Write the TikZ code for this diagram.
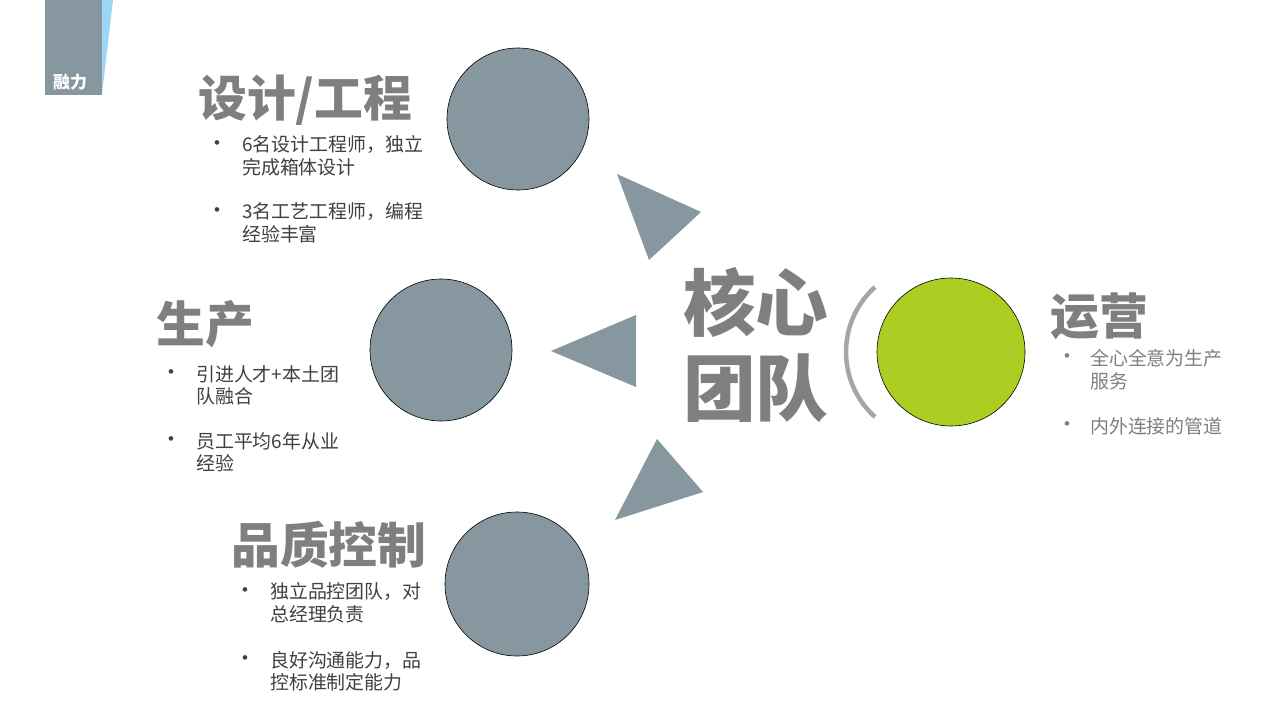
\documentclass[tikz,border=0pt]{standalone}
\usepackage{fontspec}
\newfontfamily\cjk{Noto Sans CJK SC}
\newfontfamily\bul{Liberation Sans}
\definecolor{circgray}{HTML}{87979F}
\definecolor{limeg}{HTML}{ACCE22}
\definecolor{headgray}{HTML}{7F7F7F}
\definecolor{textdark}{HTML}{404040}
\definecolor{textlight}{HTML}{7F7F7F}
\definecolor{arcgray}{HTML}{A6A6A6}
\definecolor{logoblue}{HTML}{9DD5F5}
\begin{document}
\begin{tikzpicture}[x=1bp,y=-1bp,
  heading/.style={anchor=west,inner sep=0,text=headgray,font=\cjk\bfseries\fontsize{49}{56}\selectfont},
  coretitle/.style={anchor=west,inner sep=0,text=headgray,font=\cjk\bfseries\fontsize{73}{80}\selectfont},
  bline/.style={anchor=west,inner sep=0,text=textdark,font=\cjk\fontsize{19}{23}\selectfont},
  blineR/.style={bline,text=textlight},
  bdot/.style={anchor=center,inner sep=0,text=textdark,font=\bul\fontsize{17}{23}\selectfont},
  bdotR/.style={bdot,text=textlight},
  bigcirc/.style={circle,inner sep=0,minimum size=142bp,draw=black,line width=0.6bp,fill=circgray},
  tri/.style={fill=circgray}
]
\useasboundingbox (0,0) rectangle (1280,720);
\fill[white] (0,0) rectangle (1280,720);

% logo
\fill[circgray] (45,0) rectangle (102,95);
\fill[logoblue] (102,0) -- (113,0) -- (102,94) -- cycle;
\node[anchor=west,inner sep=0,text=white,font=\cjk\bfseries\fontsize{17}{18}\selectfont] (logo) at (53,82) {融力};

% circles
\node[bigcirc] (c1) at (518,119) {};
\node[bigcirc] (c2) at (441,350) {};
\node[bigcirc,minimum size=144bp] (c3) at (517,584) {};
\node[bigcirc,minimum size=148bp,fill=limeg] (c4) at (951,352) {};

% triangles
\fill[tri] (617,174) -- (701,212) -- (649,260) -- cycle;
\fill[tri] (551,351) -- (636,315) -- (636,387) -- cycle;
\fill[tri] (657,439) -- (703,492) -- (615,520) -- cycle;

% arc
\draw[arcgray,line width=4.5bp] (875,417) arc[start angle=131.9,end angle=228.1,radius=87.3];

% core title
\node[coretitle] (core1) at (683,302) {核心};
\node[coretitle] (core2) at (683,388) {团队};

% design / engineering
\node[heading] (h1) at (198,100) {设计/工程};
\node[bdot] (d11) at (217,145) {•};
\node[bline] (t11a) at (242,145) {6名设计工程师，独立};
\node[bline] (t11b) at (242,167) {完成箱体设计};
\node[bdot] (d12) at (217,212) {•};
\node[bline] (t12a) at (242,212) {3名工艺工程师，编程};
\node[bline] (t12b) at (242,234) {经验丰富};

% production
\node[heading] (h2) at (156,324) {生产};
\node[bdot] (d21) at (171,374) {•};
\node[bline] (t21a) at (196,374) {引进人才+本土团};
\node[bline] (t21b) at (196,396) {队融合};
\node[bdot] (d22) at (171,441) {•};
\node[bline] (t22a) at (196,441) {员工平均6年从业};
\node[bline] (t22b) at (196,463) {经验};

% quality control
\node[heading] (h3) at (231,545) {品质控制};
\node[bdot] (d31) at (245,592) {•};
\node[bline] (t31a) at (270,592) {独立品控团队，对};
\node[bline] (t31b) at (270,614) {总经理负责};
\node[bdot] (d32) at (245,660) {•};
\node[bline] (t32a) at (270,660) {良好沟通能力，品};
\node[bline] (t32b) at (270,682) {控标准制定能力};

% operations
\node[heading] (h4) at (1050,316) {运营};
\node[bdotR] (d41) at (1067,358) {•};
\node[blineR] (t41a) at (1090,358) {全心全意为生产};
\node[blineR] (t41b) at (1090,381) {服务};
\node[bdotR] (d42) at (1067,426) {•};
\node[blineR] (t42a) at (1090,426) {内外连接的管道};
\end{tikzpicture}
\end{document}
